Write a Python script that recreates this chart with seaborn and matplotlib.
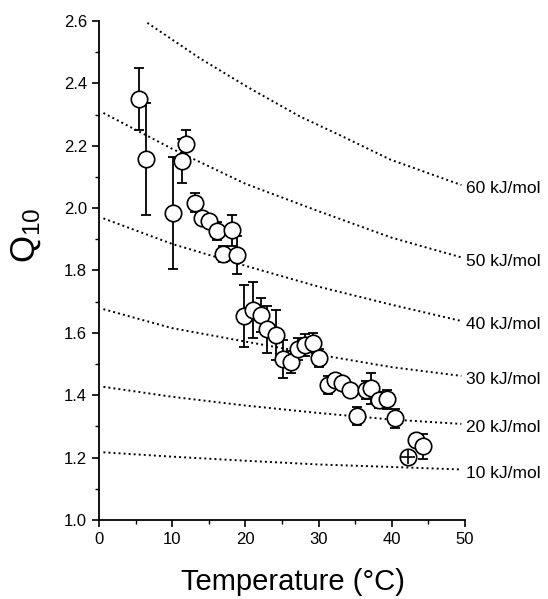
import numpy as np
import pandas as pd
import matplotlib

matplotlib.use("Agg")
import matplotlib.pyplot as plt
import seaborn as sns

# -------------------------
# Data
# -------------------------

temp = [5.5, 6.4, 10.1, 11.3, 11.9, 13.1, 14.0, 15.0, 16.1, 17.0, 18.2, 18.9,
        19.8, 21.1, 22.1, 22.9, 24.2, 25.1, 26.2, 27.2, 28.1, 29.2, 30.0,
        31.3, 32.2, 33.2, 34.3, 35.3, 36.5, 37.2, 38.2, 39.4, 40.5, 43.3, 44.3]
q10 = [2.35, 2.157, 1.985, 2.152, 2.205, 2.017, 1.967, 1.959, 1.927, 1.853, 1.929, 1.849,
       1.655, 1.673, 1.657, 1.612, 1.593, 1.516, 1.507, 1.547, 1.561, 1.568, 1.519,
       1.433, 1.449, 1.438, 1.417, 1.333, 1.417, 1.422, 1.385, 1.387, 1.326, 1.256, 1.237]
q10_err = [0.10, 0.18, 0.18, 0.07, 0.045, 0.03, 0.02, 0.02, 0.03, 0.025, 0.05, 0.06,
           0.10, 0.09, 0.055, 0.075, 0.08, 0.06, 0.035, 0.035, 0.035, 0.03, 0.03,
           0.03, 0.02, 0.02, 0.02, 0.03, 0.03, 0.05, 0.025, 0.03, 0.03, 0.02, 0.04]

# the crossed circle point
temp_x = [42.2]
q10_x = [1.203]

# activation energy reference curves
curve_t = [0.6, 10, 20, 30, 40, 49.5]
ea_10 = [1.217, 1.203, 1.19, 1.178, 1.17, 1.162]
ea_20 = [1.427, 1.395, 1.367, 1.343, 1.322, 1.308]
ea_30 = [1.676, 1.615, 1.572, 1.53, 1.49, 1.462]
ea_40 = [1.967, 1.885, 1.815, 1.748, 1.69, 1.638]
ea_50 = [2.305, 2.19, 2.078, 1.99, 1.905, 1.842]
curve_t_60 = [6.6, 13.8, 20.6, 27.5, 32.9, 39.75, 49.5]
ea_60 = [2.594, 2.48, 2.384, 2.293, 2.234, 2.156, 2.074]

ea_labels = ["10 kJ/mol", "20 kJ/mol", "30 kJ/mol", "40 kJ/mol", "50 kJ/mol", "60 kJ/mol"]

# -------------------------
# Plot
# -------------------------

sns.set_style("ticks")
plt.rcParams['font.family'] = ['Liberation Sans', 'DejaVu Sans']
plt.rcParams['mathtext.fontset'] = 'custom'
plt.rcParams['mathtext.rm'] = 'Liberation Sans'
plt.rcParams['mathtext.default'] = 'regular'
plt.rcParams['text.color'] = 'black'
plt.rcParams['axes.labelcolor'] = 'black'

fig = plt.figure(figsize=(5.48, 5.99), dpi=100)
ax = fig.add_axes([0.1807, 0.1319, 0.6679, 0.8331])

curves = [(curve_t, ea_10), (curve_t, ea_20), (curve_t, ea_30),
          (curve_t, ea_40), (curve_t, ea_50), (curve_t_60, ea_60)]

for (t, q), lab in zip(curves, ea_labels):
    df_c = pd.DataFrame({"T": t, "Q": q})
    sns.lineplot(data=df_c, x="T", y="Q", ax=ax, color="black",
                 linestyle=(0, (1, 1.6)), linewidth=1.4, zorder=1)
    ax.text(t[-1] + 0.6, q[-1] - 0.012, lab, fontsize=12.5, color="black",
            ha="left", va="center", clip_on=False)

ax.errorbar(temp, q10, yerr=q10_err, fmt="none", ecolor="black",
            elinewidth=1.3, capsize=3.5, capthick=1.3, zorder=2)

df_pts = pd.DataFrame({"T": temp, "Q": q10})
sns.scatterplot(data=df_pts, x="T", y="Q", ax=ax, s=140, marker="o",
                facecolor="white", edgecolor="black", linewidth=1.2, zorder=3)

df_x = pd.DataFrame({"T": temp_x, "Q": q10_x})
sns.scatterplot(data=df_x, x="T", y="Q", ax=ax, s=140, marker="o",
                facecolor="white", edgecolor="black", linewidth=1.2, zorder=3)
ax.scatter(temp_x, q10_x, s=90, marker="+", color="black", linewidth=1.2, zorder=4)

ax.set_xlim(0, 50)
ax.set_ylim(1.0, 2.6)
ax.set_xticks([0, 10, 20, 30, 40, 50])
ax.set_xticks([5, 15, 25, 35, 45], minor=True)
ax.set_yticks(np.round(np.arange(1.0, 2.61, 0.2), 1))
ax.set_yticks(np.round(np.arange(1.1, 2.6, 0.2), 1), minor=True)
ax.set_yticklabels([f"{v:.1f}" for v in np.arange(1.0, 2.61, 0.2)])

ax.tick_params(axis="both", which="major", direction="out", length=5, width=1.2,
               labelsize=12, color="black", labelcolor="black")
ax.tick_params(axis="both", which="minor", direction="out", length=3, width=1.0,
               color="black")

sns.despine(ax=ax)
for s in ["left", "bottom"]:
    ax.spines[s].set_color("black")
    ax.spines[s].set_linewidth(1.3)

ax.set_xlabel("Temperature (°C)", fontsize=21, va="center")
ax.set_ylabel("Q$_{10}$", fontsize=25, va="center")
ax.xaxis.set_label_coords(0.53, -0.124)
ax.yaxis.set_label_coords(-0.20, 0.57)

fig.savefig("out.png", dpi=100)
plt.close(fig)
